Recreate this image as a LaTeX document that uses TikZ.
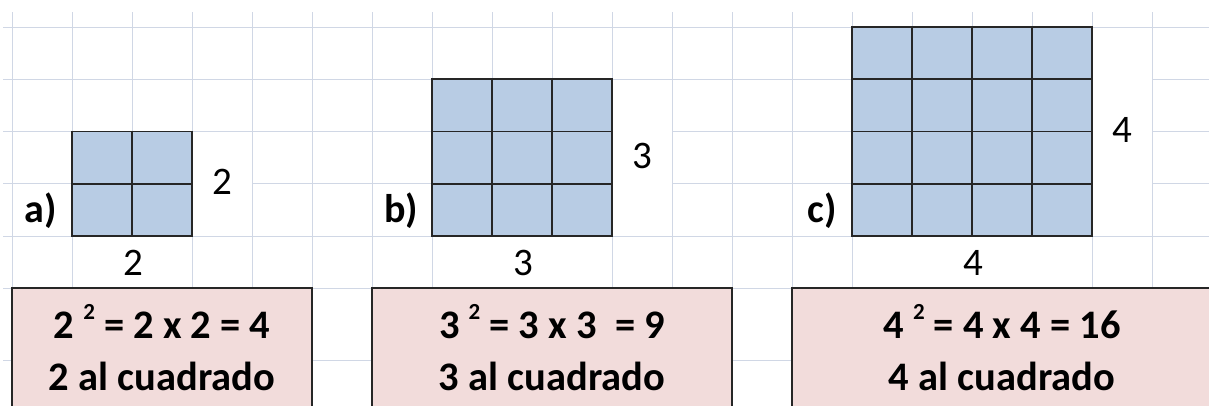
\documentclass[tikz,border=0pt]{standalone}
\usepackage{fontspec}
\setmainfont{Carlito}
\definecolor{gridc}{HTML}{D0D7E5}
\definecolor{sqblue}{HTML}{B8CCE4}
\definecolor{boxpink}{HTML}{F2DCDB}
\newcommand\sqgrid[2]{%
  \fill[sqblue] (#1,{236-52.25*#2}) rectangle ({#1+60*#2},236);
  \foreach \i in {1,...,#2}{%
    \draw[sqline] ({#1+60*\i-60},{236-52.25*#2}) -- ({#1+60*\i-60},236);
    \draw[sqline] (#1,{236-52.25*\i+52.25}) -- ({#1+60*#2},{236-52.25*\i+52.25});
  }
  \draw[sqline] (#1,{236-52.25*#2}) rectangle ({#1+60*#2},236);
}
\newcommand\supr[1]{\raisebox{19pt}{\fontsize{23}{23}\selectfont #1}}
\begin{document}
\begin{tikzpicture}[x=1pt,y=-1pt,
  gridline/.style={draw=gridc,line width=1pt},
  sqline/.style={draw=black!85,line width=1.8pt,line cap=rect},
  boxstyle/.style={draw=black!85,line width=1.8pt,fill=boxpink},
  blank/.style={fill=white,draw=none},
  numlabel/.style={anchor=base,inner sep=0pt,font=\fontsize{39}{39}\selectfont},
  partlabel/.style={anchor=base,inner sep=0pt,font=\fontsize{40}{40}\selectfont\bfseries},
  boxtext/.style={anchor=base,inner sep=0pt,font=\fontsize{40.5}{40.5}\selectfont\bfseries}]
\useasboundingbox (0,0) rectangle (1209,405);
\clip (0,0) rectangle (1209,405);
% spreadsheet grid
\foreach \y in {27,79.25,131.5,183.75,236,288,360}
  \draw[gridline] (3,\y) -- (1209,\y);
\foreach \x in {12,72,...,1152}
  \draw[gridline] (\x,12) -- (\x,405);
% merged cells (no inner gridlines)
\fill[blank] (192.5,132) rectangle (251.5,235.5);
\fill[blank] (72.5,236.5) rectangle (191.5,287.5);
\fill[blank] (612.5,79.75) rectangle (671.5,235.5);
\fill[blank] (432.5,236.5) rectangle (611.5,287.5);
\fill[blank] (1092.5,27.5) rectangle (1151.5,235.5);
\fill[blank] (852.5,236.5) rectangle (1091.5,287.5);
% squares
\sqgrid{72}{2}
\sqgrid{432}{3}
\sqgrid{852}{4}
% labels
\node[partlabel] (la) at (41,222) {a)};
\node[partlabel] (lb) at (401,222) {b)};
\node[partlabel] (lc) at (822,222) {c)};
\node[numlabel] (ra) at (222,194) {2};
\node[numlabel] (ba) at (133,275) {2};
\node[numlabel] (rb) at (642,168) {3};
\node[numlabel] (bb) at (523,275) {3};
\node[numlabel] (rc) at (1122,142) {4};
\node[numlabel] (bc) at (973,275) {4};
% result boxes
\draw[boxstyle] (12,288) rectangle (312,430);
\draw[boxstyle] (372,288) rectangle (732,430);
\draw[boxstyle] (792,288) rectangle (1212,430);
\node[boxtext] (ta1) at (162,338) {2 \supr{2} = 2 x 2 = 4};
\node[boxtext] (ta2) at (162,390) {2 al cuadrado};
\node[boxtext] (tb1) at (552,338) {3 \supr{2} = 3 x 3 \ = 9};
\node[boxtext] (tb2) at (552,390) {3 al cuadrado};
\node[boxtext] (tc1) at (1002,338) {4 \supr{2} = 4 x 4 = 16};
\node[boxtext] (tc2) at (1002,390) {4 al cuadrado};
\end{tikzpicture}
\end{document}
